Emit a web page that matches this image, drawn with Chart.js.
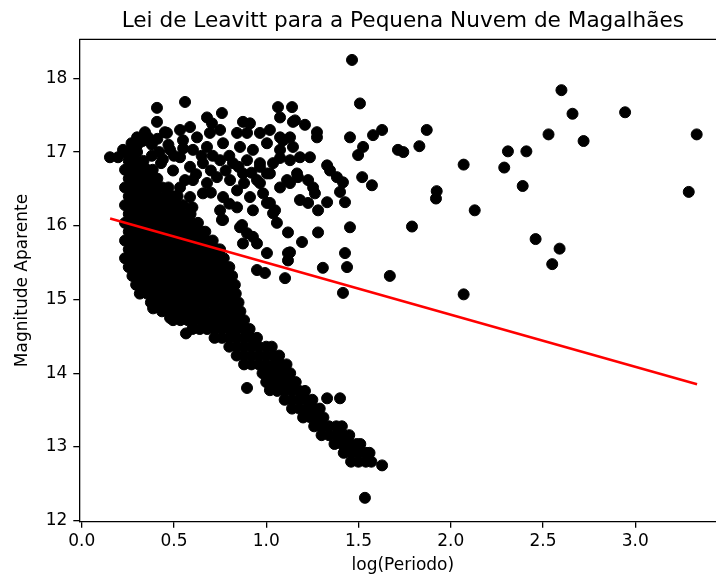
<!DOCTYPE html>
<html>
<head>
<meta charset="utf-8">
<script src="https://cdn.jsdelivr.net/npm/chart.js@4.4.1/dist/chart.umd.min.js"></script>
<style>
html, body { margin: 0; padding: 0; background: #fff; overflow: hidden; }
#wrap { width: 740px; height: 578px; }
</style>
</head>
<body>
<div id="wrap"><canvas id="chart" width="740" height="578"></canvas></div>
<script>
// dense core of the cloud, one row per magnitude
const coreMag = [17.00, 16.88, 16.76, 16.64, 16.52, 16.40, 16.28, 16.16, 16.04, 15.92,
                 15.80, 15.68, 15.56, 15.44, 15.32, 15.20, 15.08, 14.96, 14.84, 14.72];
const coreLogP = [
    [0.235, 0.275, 0.3],
    [0.255, 0.295, 0.335],
    [0.235, 0.275, 0.315, 0.355, 0.385],
    [0.255, 0.295, 0.335, 0.375, 0.41],
    [0.235, 0.275, 0.315, 0.355, 0.395, 0.435, 0.47],
    [0.255, 0.295, 0.335, 0.375, 0.415, 0.455, 0.495, 0.51],
    [0.235, 0.275, 0.315, 0.355, 0.395, 0.435, 0.475, 0.515, 0.55],
    [0.255, 0.295, 0.335, 0.375, 0.415, 0.455, 0.495, 0.535, 0.575, 0.59],
    [0.235, 0.275, 0.315, 0.355, 0.395, 0.435, 0.475, 0.515, 0.555, 0.595, 0.63],
    [0.255, 0.295, 0.335, 0.375, 0.415, 0.455, 0.495, 0.535, 0.575, 0.615, 0.655, 0.67],
    [0.235, 0.275, 0.315, 0.355, 0.395, 0.435, 0.475, 0.515, 0.555, 0.595, 0.635, 0.675, 0.71],
    [0.255, 0.295, 0.335, 0.375, 0.415, 0.455, 0.495, 0.535, 0.575, 0.615, 0.655, 0.695, 0.735, 0.75],
    [0.235, 0.275, 0.315, 0.355, 0.395, 0.435, 0.475, 0.515, 0.555, 0.595, 0.635, 0.675, 0.715, 0.755, 0.77],
    [0.255, 0.295, 0.335, 0.375, 0.415, 0.455, 0.495, 0.535, 0.575, 0.615, 0.655, 0.695, 0.735, 0.775, 0.8],
    [0.275, 0.315, 0.355, 0.395, 0.435, 0.475, 0.515, 0.555, 0.595, 0.635, 0.675, 0.715, 0.755, 0.795, 0.815],
    [0.295, 0.335, 0.375, 0.415, 0.455, 0.495, 0.535, 0.575, 0.615, 0.655, 0.695, 0.735, 0.775, 0.815, 0.83],
    [0.315, 0.355, 0.395, 0.435, 0.475, 0.515, 0.555, 0.595, 0.635, 0.675, 0.715, 0.755, 0.795, 0.835],
    [0.375, 0.415, 0.455, 0.495, 0.535, 0.575, 0.615, 0.655, 0.695, 0.735, 0.775, 0.815, 0.85],
    [0.435, 0.475, 0.515, 0.555, 0.595, 0.635, 0.675, 0.715, 0.755, 0.795, 0.835, 0.86],
    [0.495, 0.535, 0.575, 0.615, 0.655, 0.695, 0.735, 0.775, 0.815, 0.855, 0.88]
];

// the bright branch running down to the right
const branchMag = [14.60, 14.48, 14.36, 14.24, 14.12, 14.00, 13.88, 13.76,
                   13.64, 13.52, 13.40, 13.28, 13.16, 13.04, 12.92, 12.80];
const branchLogP = [
    [0.6, 0.64, 0.68, 0.72, 0.76, 0.8, 0.84, 0.88, 0.91],
    [0.72, 0.76, 0.8, 0.84, 0.88, 0.92, 0.95],
    [0.8, 0.84, 0.88, 0.92, 0.96, 1.0, 1.03],
    [0.84, 0.88, 0.92, 0.96, 1.0, 1.04, 1.07],
    [0.88, 0.92, 0.96, 1.0, 1.04, 1.08, 1.11],
    [0.98, 1.02, 1.06, 1.1, 1.13],
    [1.0, 1.04, 1.08, 1.12, 1.16],
    [1.06, 1.1, 1.14, 1.18, 1.21],
    [1.1, 1.14, 1.18, 1.22, 1.25],
    [1.14, 1.18, 1.22, 1.26, 1.29],
    [1.2, 1.24, 1.28, 1.31],
    [1.26, 1.3, 1.34, 1.38, 1.41],
    [1.3, 1.34, 1.38, 1.42, 1.45],
    [1.37, 1.41, 1.45, 1.49, 1.51],
    [1.42, 1.46, 1.5, 1.54, 1.56],
    [1.46, 1.5, 1.54, 1.57]
];

// scattered stars
const starLogP = [
    0.153, 0.197, 0.224, 0.30, 0.27, 0.33, 0.38, 0.42, 0.38, 0.43,
    0.408, 0.56, 0.408, 0.343, 0.451, 0.533, 0.587, 0.679, 0.76, 0.706,
    0.874, 0.912, 1.064, 1.14, 1.075, 1.145, 0.462, 0.549, 0.625, 0.695,
    0.75, 0.842, 0.896, 0.966, 1.02, 1.075, 0.479, 0.533, 0.603, 0.679,
    0.766, 0.858, 0.928, 1.004, 1.075, 1.145, 0.495, 0.587, 0.657, 0.75,
    0.82, 0.896, 0.966, 1.037, 1.129, 0.533, 0.603, 0.679, 0.733, 0.804,
    0.874, 0.95, 1.004, 1.113, 1.167, 0.587, 0.657, 0.766, 0.842, 0.912,
    0.983, 1.075, 0.75, 0.842, 0.928, 1.004, 0.766,
    0.36, 0.30, 0.41, 0.47, 0.50, 0.44, 0.55, 0.65, 0.71, 0.80,
    0.62, 0.70, 0.78, 0.85, 0.92, 0.56, 0.52, 0.60, 0.70, 0.80, 0.88,
    1.465, 1.508, 1.156, 1.21, 1.275, 1.275, 1.628, 1.579, 1.714, 1.454,
    1.525, 1.498, 1.52, 1.573, 1.33, 1.346, 1.383, 1.416, 1.4, 1.427,
    1.33, 1.281, 1.183, 1.227, 1.129, 1.172, 1.227, 1.254, 1.264, 1.075,
    1.183, 1.237, 1.091, 1.129, 0.966, 1.02, 0.966, 1.02, 1.048, 1.454,
    1.427, 1.438, 1.281, 1.194, 1.129, 1.118, 1.058, 1.118, 0.76, 0.869,
    0.896, 0.95, 1.004, 1.307, 0.858, 0.874, 0.928, 0.95, 0.993, 1.102,
    1.118, 1.037,
    0.565, 0.387, 0.479, 0.896, 1.02, 1.33, 1.4, 1.416, 1.535, 1.628,
    2.60, 2.66, 2.945, 2.53, 2.72, 3.333, 3.29, 1.87, 1.83, 1.743,
    2.31, 2.41, 2.29, 2.07, 2.39, 1.924, 1.92, 2.13, 1.79, 2.46,
    2.59, 2.55, 2.07, 1.67
];
const starMag = [
    16.93, 16.93, 17.03, 17.09, 17.12, 17.15, 17.10, 17.00, 16.95, 16.85,
    17.60, 17.68, 17.41, 17.27, 17.27, 17.30, 17.34, 17.47, 17.53, 17.39,
    17.41, 17.39, 17.61, 17.61, 17.47, 17.41, 17.26, 17.16, 17.20, 17.26,
    17.30, 17.26, 17.26, 17.26, 17.30, 17.20, 17.03, 16.93, 17.03, 17.07,
    17.12, 17.07, 17.03, 17.12, 17.03, 17.07, 16.75, 16.80, 16.85, 16.89,
    16.85, 16.89, 16.80, 16.85, 16.89, 16.52, 16.62, 16.58, 16.66, 16.62,
    16.71, 16.62, 16.71, 16.62, 16.71, 16.39, 16.44, 16.39, 16.48, 16.39,
    16.44, 16.52, 16.21, 16.25, 16.21, 16.31, 16.08,
    17.20, 17.20, 17.18, 17.10, 16.95, 16.90, 17.05, 16.95, 16.95, 16.95,
    16.70, 16.75, 16.75, 16.80, 16.72, 16.62, 16.40, 16.25, 16.45, 16.30, 16.58,
    18.25, 17.66, 17.43, 17.37, 17.27, 17.20, 17.30, 17.23, 17.03, 17.20,
    17.07, 16.96, 16.66, 16.55, 16.82, 16.75, 16.66, 16.59, 16.46, 16.32,
    16.32, 16.21, 16.35, 16.31, 16.58, 16.66, 16.62, 16.52, 16.44, 16.92,
    16.93, 16.93, 17.16, 17.20, 16.85, 16.71, 16.58, 16.31, 16.21, 15.98,
    15.63, 15.44, 15.91, 15.78, 15.64, 15.53, 16.04, 15.91, 16.08, 16.01,
    15.90, 15.76, 15.63, 15.43, 15.98, 15.76, 15.85, 15.40, 15.36, 15.29,
    15.63, 16.17,
    14.54, 14.88, 14.75, 13.80, 13.77, 13.66, 13.66, 15.09, 12.31, 12.75,
    17.84, 17.52, 17.54, 17.24, 17.15, 17.24, 16.46, 17.30, 17.08, 17.00,
    17.01, 17.01, 16.79, 16.83, 16.54, 16.47, 16.37, 16.21, 15.99, 15.82,
    15.69, 15.48, 15.07, 15.32
];

// fitted line end points
const fitLogP = [0.154, 3.335];
const fitMag = [16.10, 13.85];

const xTicks = [0, 0.5, 1, 1.5, 2, 2.5, 3];
const yTicks = [12, 13, 14, 15, 16, 17, 18];

const points = [];
coreMag.forEach((m, i) => coreLogP[i].forEach(p => points.push({x: p, y: m})));
branchMag.forEach((m, i) => branchLogP[i].forEach(p => points.push({x: p, y: m})));
starLogP.forEach((p, i) => points.push({x: p, y: starMag[i]}));

const fitLine = fitLogP.map((p, i) => ({x: p, y: fitMag[i]}));

const FONT = '"DejaVu Sans", sans-serif';

const frameAndTitle = {
    id: 'frameAndTitle',
    afterDraw(chart) {
        const {ctx, chartArea: a} = chart;
        ctx.save();
        ctx.strokeStyle = '#000';
        ctx.lineWidth = 1.3;
        ctx.beginPath();
        ctx.moveTo(a.left, a.top);
        ctx.lineTo(a.right, a.top);
        ctx.lineTo(a.right, a.bottom);
        ctx.stroke();
        ctx.fillStyle = '#000';
        ctx.font = '21.6px ' + FONT;
        ctx.textAlign = 'center';
        ctx.textBaseline = 'alphabetic';
        ctx.fillText('Lei de Leavitt para a Pequena Nuvem de Magalhães', (a.left + a.right) / 2, 27);
        ctx.restore();
    }
};

new Chart(document.getElementById('chart'), {
    type: 'scatter',
    data: {
        datasets: [
            {
                data: fitLine,
                showLine: true,
                borderColor: '#ff0000',
                borderWidth: 2.5,
                pointRadius: 0,
                order: 0
            },
            {
                data: points,
                backgroundColor: '#000',
                borderColor: '#000',
                borderWidth: 1,
                pointRadius: 5.5,
                order: 1
            }
        ]
    },
    options: {
        responsive: false,
        animation: false,
        devicePixelRatio: 1,
        layout: { padding: { top: 39.3, right: 13.6, left: 0, bottom: 0 } },
        plugins: { legend: { display: false }, tooltip: { enabled: false } },
        scales: {
            x: {
                type: 'linear',
                min: -0.013,
                max: 3.494,
                afterBuildTicks: s => { s.ticks = xTicks.map(v => ({value: v})); },
                afterFit: s => { s.height = 56.3; },
                ticks: {
                    callback: v => v.toFixed(1),
                    color: '#000',
                    font: { family: FONT, size: 17 },
                    padding: 4,
                    maxRotation: 0,
                    autoSkip: false
                },
                grid: { drawOnChartArea: false, tickLength: 6, color: '#000', lineWidth: 1.3 },
                border: { color: '#000', width: 1.3 },
                title: {
                    display: true,
                    text: 'log(Periodo)',
                    color: '#000',
                    font: { family: FONT, size: 17 },
                    padding: { top: 0, bottom: 2 }
                }
            },
            y: {
                type: 'linear',
                min: 11.986,
                max: 18.53,
                afterBuildTicks: s => { s.ticks = yTicks.map(v => ({value: v})); },
                afterFit: s => { s.width = 79.3; },
                ticks: {
                    callback: v => String(v),
                    color: '#000',
                    font: { family: FONT, size: 17 },
                    padding: 6,
                    autoSkip: false
                },
                grid: { drawOnChartArea: false, tickLength: 6, color: '#000', lineWidth: 1.3 },
                border: { color: '#000', width: 1.3 },
                title: {
                    display: true,
                    text: 'Magnitude Aparente',
                    color: '#000',
                    font: { family: FONT, size: 17 },
                    padding: { top: 12, bottom: 0 }
                }
            }
        }
    },
    plugins: [frameAndTitle]
});
</script>
</body>
</html>
